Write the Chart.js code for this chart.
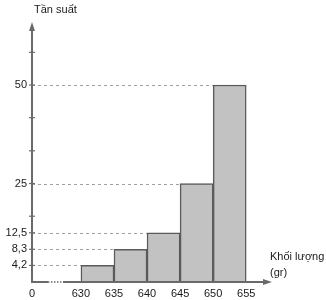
<!DOCTYPE html>
<html>
<head>
<meta charset="utf-8">
<script src="https://cdn.jsdelivr.net/npm/chart.js@4/dist/chart.umd.min.js"></script>
<style>
  html, body { margin: 0; padding: 0; background: #fff; }
  #wrap { width: 326px; height: 300px; }
</style>
</head>
<body>
<div id="wrap"><canvas id="myChart"></canvas></div>
<script>
// class edges (gr) and frequencies
const edges = [630, 635, 640, 645, 650, 655];
const freq = [4.2, 8.3, 12.5, 25, 50];
const freqLabels = ['4,2', '8,3', '12,5', '25', '50'];
const minorTicks = [16.7, 33.3, 41.7, 58.3];
const xTickLabels = ['630', '635', '640', '645', '650', '655'];

const points = freq.map(function(f, i) {
    return { x: (edges[i] + edges[i + 1]) / 2, y: f };
});

const axisColor = '#6a6a6a';
const textColor = '#1a1a1a';
const font = '11px "Liberation Sans", Arial, sans-serif';

// axes, arrows, dashed guides and tick text drawn from the scales
const axesPlugin = {
    id: 'axes',
    beforeDatasetsDraw: function(chart) {
        const c = chart.ctx;
        const xs = chart.scales.x;
        const ys = chart.scales.y;
        const x0 = xs.left;

        // dashed guides up to each bar's left edge
        c.save();
        c.strokeStyle = '#a0a0a0';
        c.lineWidth = 1;
        c.setLineDash([3, 3]);
        freq.forEach(function(f, i) {
            const py = Math.round(ys.getPixelForValue(f)) + 0.5;
            c.beginPath();
            c.moveTo(x0, py);
            c.lineTo(xs.getPixelForValue(edges[i]), py);
            c.stroke();
        });
        c.restore();
    },
    afterDatasetsDraw: function(chart) {
        const c = chart.ctx;
        const xs = chart.scales.x;
        const ys = chart.scales.y;
        const x0 = xs.left;
        const y0 = ys.getPixelForValue(0);
        const xEnd = xs.right;
        const yTop = ys.top;

        c.save();
        c.strokeStyle = axisColor;
        c.fillStyle = axisColor;
        c.lineWidth = 2;

        // y axis
        c.beginPath();
        c.moveTo(x0, y0 + 1);
        c.lineTo(x0, yTop + 6);
        c.stroke();
        c.beginPath();
        c.moveTo(x0, yTop);
        c.lineTo(x0 - 3, yTop + 9);
        c.lineTo(x0 + 3, yTop + 9);
        c.closePath();
        c.fill();

        // x axis with a break between 0 and 630
        c.beginPath();
        c.moveTo(x0, y0);
        c.lineTo(x0 + 16, y0);
        c.moveTo(x0 + 31, y0);
        c.lineTo(xEnd - 6, y0);
        c.stroke();
        c.lineWidth = 1.5;
        c.setLineDash([1.5, 1.5]);
        c.beginPath();
        c.moveTo(x0 + 16, y0);
        c.lineTo(x0 + 31, y0);
        c.stroke();
        c.setLineDash([]);
        c.beginPath();
        c.moveTo(xEnd, y0);
        c.lineTo(xEnd - 9, y0 - 3);
        c.lineTo(xEnd - 9, y0 + 3);
        c.closePath();
        c.fill();

        // y tick marks
        c.lineWidth = 1.2;
        freq.concat(minorTicks).forEach(function(v) {
            const py = ys.getPixelForValue(v);
            c.beginPath();
            c.moveTo(x0 - 3, py);
            c.lineTo(x0 + 3, py);
            c.stroke();
        });

        // text
        c.fillStyle = textColor;
        c.font = font;
        c.textAlign = 'right';
        c.textBaseline = 'middle';
        freq.forEach(function(v, i) {
            c.fillText(freqLabels[i], x0 - 5, ys.getPixelForValue(v));
        });
        c.textAlign = 'center';
        c.textBaseline = 'top';
        c.fillText('0', x0, y0 + 6);
        edges.forEach(function(e, i) {
            c.fillText(xTickLabels[i], xs.getPixelForValue(e), y0 + 6);
        });
        c.textAlign = 'left';
        c.textBaseline = 'middle';
        c.fillText('Tần suất', x0 + 2, yTop - 12);
        c.fillText('Khối lượng', xEnd - 2, y0 - 25);
        c.fillText('(gr)', xEnd - 2, y0 - 9);
        c.restore();
    }
};

const ctx = document.getElementById('myChart').getContext('2d');
new Chart(ctx, {
    type: 'bar',
    data: {
        datasets: [{
            label: 'Tần suất',
            data: points,
            backgroundColor: '#c2c2c2',
            borderColor: '#5a5a5a',
            borderWidth: 1.5,
            barPercentage: 1,
            categoryPercentage: 1
        }]
    },
    options: {
        responsive: true,
        maintainAspectRatio: false,
        animation: false,
        layout: {
            padding: { left: 32, right: 54, top: 22, bottom: 18 }
        },
        plugins: {
            legend: { display: false },
            tooltip: { enabled: false }
        },
        scales: {
            x: {
                type: 'linear',
                min: 622.6,
                max: 658.9,
                offset: false,
                display: false
            },
            y: {
                min: 0,
                max: 66,
                display: false
            }
        }
    },
    plugins: [axesPlugin]
});
</script>
</body>
</html>
